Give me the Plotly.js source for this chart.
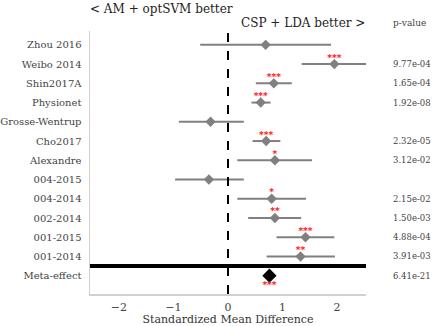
<!DOCTYPE html>
<html>
<head>
<meta charset="utf-8">
<script src="https://cdn.plot.ly/plotly-3.0.1.min.js"></script>
<style>
html,body{margin:0;padding:0;background:#fff;}
#chart{width:433px;height:326px;}
#chart text{font-family:"DejaVu Serif",serif !important;}
</style>
</head>
<body>
<div id="chart"></div>
<script>
// Per-dataset standardized mean differences with 95% CI
const datasets = ["Zhou 2016", "Weibo 2014", "Shin2017A", "Physionet", "Grosse-Wentrup",
  "Cho2017", "Alexandre", "004-2015", "004-2014", "002-2014", "001-2015", "001-2014"];
const smd   = [0.69, 1.95, 0.84, 0.60, -0.32, 0.70, 0.86, -0.35, 0.80, 0.86, 1.42, 1.33];
const ciLow = [-0.51, 1.35, 0.51, 0.43, -0.90, 0.45, 0.17, -0.97, 0.17, 0.37, 0.89, 0.71];
const ciHigh= [1.89, 2.53, 1.17, 0.78, 0.29, 0.96, 1.54, 0.29, 1.43, 1.34, 1.95, 1.96];
const pValues = ["", "9.77e-04", "1.65e-04", "1.92e-08", "", "2.32e-05", "3.12e-02", "",
  "2.15e-02", "1.50e-03", "4.88e-04", "3.91e-03"];
const stars = ["", "***", "***", "***", "", "***", "*", "", "*", "**", "***", "**"];

// Combined meta-analytic effect
const metaLabel = "Meta-effect";
const metaSmd = 0.76;
const metaP = "6.41e-21";
const metaStars = "***";

const xTicks = [-2, -1, 0, 1, 2];

const serif = "DejaVu Serif";
const rows = datasets.map((_, i) => i);
const metaRow = datasets.length;

const traces = [
  {
    type: "scatter", mode: "markers",
    x: smd, y: rows,
    error_x: {
      type: "data", symmetric: false,
      array: ciHigh.map((h, i) => h - smd[i]),
      arrayminus: smd.map((m, i) => m - ciLow[i]),
      color: "#808080", thickness: 2, width: 0
    },
    marker: {symbol: "diamond", size: 8, color: "#808080"},
    hoverinfo: "skip"
  },
  {
    type: "scatter", mode: "markers",
    x: [metaSmd], y: [metaRow],
    marker: {symbol: "diamond", size: 11, color: "#000"},
    hoverinfo: "skip"
  },
  {
    // significance markers above each study, below the meta diamond
    type: "scatter", mode: "text",
    x: smd.concat([metaSmd]),
    y: rows.map(r => r - 0.3).concat([metaRow + 0.5]),
    text: stars.concat([metaStars]),
    textposition: "middle center",
    textfont: {family: serif, size: 9, color: "#ff0000", weight: "bold"},
    cliponaxis: false,
    hoverinfo: "skip"
  }
];

const allLabels = datasets.concat([metaLabel]);
const allP = pValues.concat([metaP]);

const annotations = allP.map((p, i) => ({
  text: p, x: 1.09, xref: "paper", xanchor: "left",
  y: i, yref: "y", yanchor: "middle", showarrow: false,
  font: {family: serif, size: 8.5, color: "#444"}
})).filter(a => a.text !== "");

annotations.push(
  {text: "< AM + optSVM better", x: -0.008, xref: "paper", xanchor: "left",
   y: 1.085, yref: "paper", yanchor: "middle", showarrow: false,
   font: {family: serif, size: 12, color: "#222"}},
  {text: "CSP + LDA better >", x: 0.2, xref: "x", xanchor: "left",
   y: 1.03, yref: "paper", yanchor: "middle", showarrow: false,
   font: {family: serif, size: 12, color: "#222"}},
  {text: "p-value", x: 1.09, xref: "paper", xanchor: "left",
   y: 1.03, yref: "paper", yanchor: "middle", showarrow: false,
   font: {family: serif, size: 9, color: "#444"}}
);

const layout = {
  width: 433, height: 326,
  font: {family: serif, color: "#444"},
  margin: {l: 90, r: 67, t: 31, b: 32, pad: 0},
  paper_bgcolor: "#fff", plot_bgcolor: "#fff",
  showlegend: false,
  xaxis: {
    range: [-2.53, 2.53], tickvals: xTicks,
    ticktext: xTicks.map(v => v < 0 ? "\u2212" + Math.abs(v) : String(v)),
    showgrid: false, zeroline: false,
    showline: true, linecolor: "#d0d0d0", linewidth: 1.5,
    ticks: "", ticklen: 0, ticklabelstandoff: 2,
    tickfont: {family: serif, size: 11, color: "#444"},
    title: {text: "Standardized Mean Difference", standoff: 4,
            font: {family: serif, size: 11, color: "#333"}}
  },
  yaxis: {
    range: [12.95, -0.72], tickvals: rows.concat([metaRow]), ticktext: allLabels,
    showgrid: false, zeroline: false,
    showline: true, linecolor: "#d0d0d0", linewidth: 1.5,
    ticks: "", ticklen: 0, automargin: false, ticklabelstandoff: 5,
    tickfont: {family: serif, size: 10, color: "#444"}
  },
  shapes: [
    {type: "line", xref: "x", yref: "paper", x0: 0, x1: 0, y0: 0, y1: 1,
     line: {color: "#000", width: 2, dash: "dash"}},
    {type: "line", xref: "paper", yref: "y", x0: 0, x1: 1,
     y0: metaRow - 0.5, y1: metaRow - 0.5,
     line: {color: "#000", width: 4}}
  ],
  annotations: annotations
};

Plotly.newPlot("chart", traces, layout, {displayModeBar: false, staticPlot: true});
</script>
</body>
</html>
